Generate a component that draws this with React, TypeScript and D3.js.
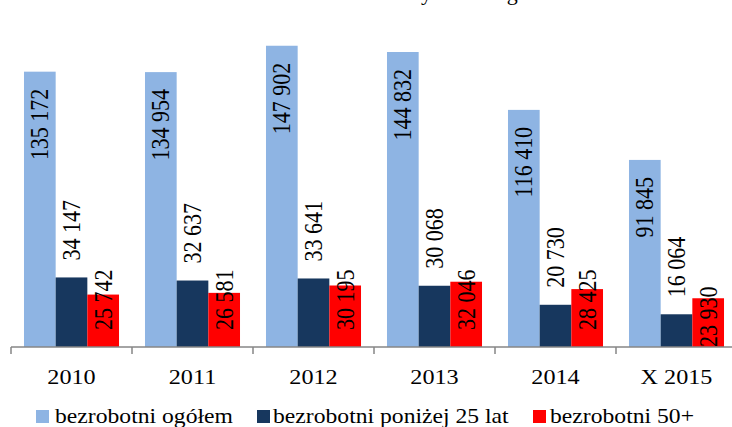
import React from "react";
import * as d3 from "d3";

const categories = ["2010", "2011", "2012", "2013", "2014", "X 2015"];
const seriesNames = ["bezrobotni ogółem", "bezrobotni poniżej 25 lat", "bezrobotni 50+"];
const ogolem = [135172, 134954, 147902, 144832, 116410, 91845];
const ponizej25 = [34147, 32637, 33641, 30068, 20730, 16064];
const powyzej50 = [25742, 26581, 30195, 32046, 28425, 23930];
const colors = ["#8EB4E3", "#17375E", "#FF0000"];

const W = 732;
const H = 427;
const FONT = "Liberation Serif";
const FS = 22;
const SX = 1.1;
const SX_LEGEND = 1.075;

const fmt = (v: number) => {
  const s = String(v);
  return s.length > 3 ? s.slice(0, s.length - 3) + " " + s.slice(s.length - 3) : s;
};

export default function App() {
  const base = 347;
  const x = d3.scaleBand<string>().domain(categories).range([11, 737]).paddingInner(0).paddingOuter(0);
  const xs = d3.scaleBand<number>().domain([0, 1, 2]).range([0, x.bandwidth()]).paddingInner(0).paddingOuter(0.41);
  const y = d3.scaleLinear().domain([0, 160000]).range([base, base - 325.9]);
  const series = [ogolem, ponizej25, powyzej50];

  const tstyle = { fontFamily: FONT, fontSize: FS } as React.CSSProperties;

  const hText = (key: string, tx: number, ty: number, txt: string, anchor: string, sx: number = SX) => (
    <text
      key={key}
      transform={`translate(${tx},${ty}) scale(${sx},1)`}
      textAnchor={anchor}
      style={tstyle}
      fill="#000"
    >
      {txt}
    </text>
  );

  const vText = (key: string, tx: number, ty: number, txt: string, anchor: string) => (
    <text
      key={key}
      transform={`translate(${tx},${ty}) scale(${SX},1) rotate(-90)`}
      textAnchor={anchor}
      dominantBaseline="central"
      style={tstyle}
      fill="#000"
    >
      {txt}
    </text>
  );

  const bars: React.ReactNode[] = [];
  const labels: React.ReactNode[] = [];
  categories.forEach((c, i) => {
    series.forEach((vals, s) => {
      const v = vals[i];
      const bx = (x(c) as number) + (xs(s) as number);
      const bw = xs.bandwidth();
      const top = y(v);
      bars.push(
        <rect key={`b${i}-${s}`} x={bx} y={top} width={bw} height={base - top} fill={colors[s]} />
      );
      const cx = bx + bw / 2;
      if (s === 0) {
        labels.push(vText(`l${i}-${s}`, cx, top + 17, fmt(v), "end"));
      } else if (s === 1) {
        labels.push(vText(`l${i}-${s}`, cx, top - 17, fmt(v), "start"));
      } else {
        const off = i === categories.length - 1 ? 0 : 17;
        labels.push(vText(`l${i}-${s}`, cx, base - off, fmt(v), "start"));
      }
    });
  });

  const ticks = [11, ...categories.map((c) => (x(c) as number) + x.bandwidth())];

  const legendItems = [
    { sw: 36, tx: 55 },
    { sw: 257, tx: 273 },
    { sw: 533, tx: 550 },
  ];

  return (
    <svg
      width={W}
      height={H}
      style={{ position: "absolute", left: 0, top: 0, background: "#fff" }}
    >
      <text y={-0.5} style={tstyle} fill="#000">
        <tspan x={432} textAnchor="end">Bezrobotni w latach 2010–2015 – Kraków i okolicy</tspan>
        <tspan x={436} textAnchor="start">na tle regionu</tspan>
      </text>
      {bars}
      <line x1={11} x2={W} y1={base} y2={base} stroke="#868686" strokeWidth={1.5} />
      {ticks.map((t, i) => (
        <line key={`t${i}`} x1={t} x2={t} y1={base} y2={base + 7} stroke="#868686" strokeWidth={1.5} />
      ))}
      {labels}
      {categories.map((c) =>
        hText(`c${c}`, (x(c) as number) + x.bandwidth() / 2, 384, c, "middle")
      )}
      {seriesNames.map((n, i) => (
        <g key={`lg${i}`}>
          <rect x={legendItems[i].sw} y={410} width={13} height={13} fill={colors[i]} />
          {hText(`lt${i}`, legendItems[i].tx, 423, n, "start", SX_LEGEND)}
        </g>
      ))}
    </svg>
  );
}
